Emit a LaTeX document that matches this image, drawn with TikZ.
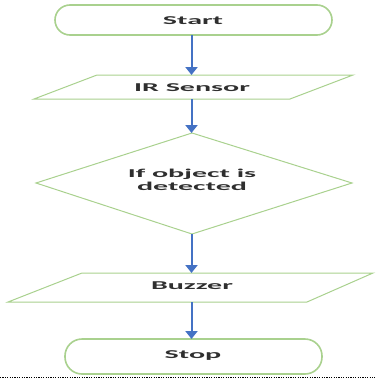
\documentclass[tikz,border=0pt]{standalone}
\usepackage{fontspec}
\newfontfamily\flowfont[FakeStretch=2.5]{Carlito}
\usetikzlibrary{arrows.meta}
\definecolor{boxgreen}{HTML}{A9D18E}
\definecolor{arrowblue}{HTML}{4472C4}
\definecolor{txt}{HTML}{2F2F2F}
\begin{document}
\begin{tikzpicture}[x=1pt,y=-1pt,
  outline/.style={draw=boxgreen,line width=1pt,fill=white},
  termline/.style={draw=boxgreen,line width=1.6pt,fill=white,rounded corners=15pt},
  label/.style={font=\flowfont\bfseries\fontsize{12}{13}\selectfont,text=txt,align=center,inner sep=0pt},
  flow/.style={draw=arrowblue,line width=2pt,-{Triangle[width=12pt,length=8pt]}}]
\useasboundingbox (0,0) rectangle (375,380);
% shapes
\draw[termline] (55,5) rectangle (332,35);
\draw[outline] (97,75) -- (353,75) -- (290,99) -- (34,99) -- cycle;
\draw[outline] (192,133) -- (352,183) -- (192,234) -- (36,183) -- cycle;
\draw[outline] (82,273) -- (373,273) -- (307,302) -- (8,302) -- cycle;
\draw[termline,rounded corners=17pt] (65,339) rectangle (322,374);
% texts
\node[label] (start) at (193,20.5) {Start};
\node[label] (ir) at (192,87.5) {IR Sensor};
\node[label] (dec) at (192,180) {If object is\\detected};
\node[label] (buz) at (192,286) {Buzzer};
\node[label] (stop) at (193,355.5) {Stop};
% connector ends
\coordinate (s1) at (191.5,35);
\coordinate (i0) at (191.5,75);
\coordinate (i1) at (191.5,99);
\coordinate (d0) at (191.5,133);
\coordinate (d1) at (191.5,234);
\coordinate (b0) at (191.5,273);
\coordinate (b1) at (191.5,302);
\coordinate (t0) at (191.5,339);
\draw[flow] (s1) -- (i0);
\draw[flow] (i1) -- (d0);
\draw[flow] (d1) -- (b0);
\draw[flow] (b1) -- (t0);
% dotted rule
\coordinate (r0) at (0,377);
\coordinate (r1) at (375,377);
\draw[black,line width=1pt,dash pattern=on 1.2pt off 1.2pt] (r0) -- (r1);
\end{tikzpicture}
\end{document}
